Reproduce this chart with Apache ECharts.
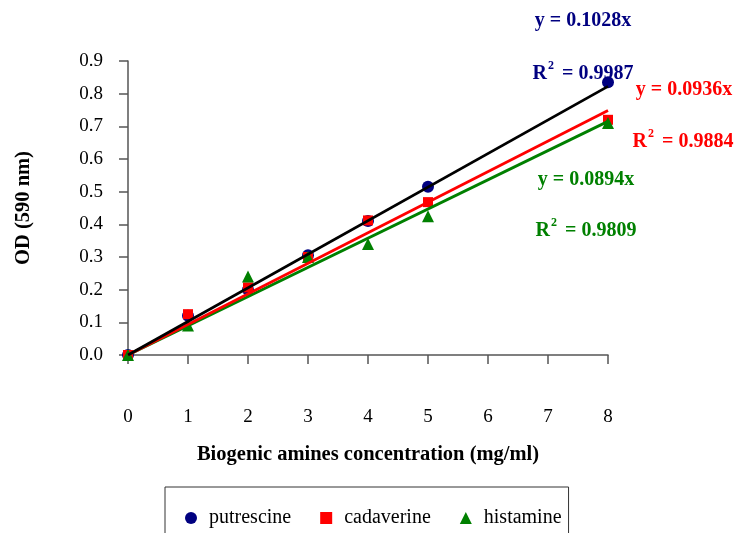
<!DOCTYPE html>
<html>
<head>
<meta charset="utf-8">
<script src="https://cdn.jsdelivr.net/npm/echarts@6/dist/echarts.min.js"></script>
<style>
  html, body { margin: 0; padding: 0; background: #fff; }
  #graph { width: 735px; height: 533px; }
</style>
</head>
<body>
<div id="graph"></div>
<script>
// 数据
var conc = [0, 1, 2, 3, 4, 5, 8];
var putrescine = [0, 0.12, 0.20, 0.305, 0.41, 0.515, 0.835];
var cadaverine = [0, 0.125, 0.207, 0.30, 0.412, 0.468, 0.72];
var histamine = [0, 0.09, 0.24, 0.30, 0.34, 0.425, 0.71];
var names = ['putrescine', 'cadaverine', 'histamine'];
var slopes = [0.1028, 0.0936, 0.0894];
var r2 = ['0.9987', '0.9884', '0.9809'];
var xTicks = [0, 1, 2, 3, 4, 5, 6, 7, 8];

var colors = ['#000080', '#ff0000', '#008000'];
var lineColors = ['#000000', '#ff0000', '#008000'];
var symbols = ['circle', 'rect', 'triangle'];
var symbolSizes = [12, 10, 12];
var serif = '"Liberation Serif", "Times New Roman", serif';

function pairs(ys) {
    return conc.map(function (x, i) { return [x, ys[i]]; });
}

var values = [putrescine, cadaverine, histamine];
var series = [];

// 散点
values.forEach(function (ys, i) {
    series.push({
        name: names[i],
        type: 'scatter',
        symbol: symbols[i],
        symbolSize: symbolSizes[i],
        itemStyle: {color: colors[i], opacity: 1},
        data: pairs(ys),
        z: 2 + i
    });
});

// 趋势线 y = kx
slopes.forEach(function (k, i) {
    var x0 = conc[0], x1 = conc[conc.length - 1];
    series.push({
        name: names[i] + ' trend',
        type: 'line',
        showSymbol: false,
        lineStyle: {color: lineColors[i], width: 2.8},
        data: [[x0, k * x0], [x1, k * x1]],
        silent: true,
        z: 7 - i
    });
});

// 方程标注
var labelPos = [
    {eq: [583, 21], r: [583, 72]},
    {eq: [684, 90], r: [683, 140]},
    {eq: [586, 180], r: [586, 229]}
];
var graphics = [];
slopes.forEach(function (k, i) {
    graphics.push({
        type: 'text',
        x: labelPos[i].eq[0], y: labelPos[i].eq[1],
        style: {
            text: 'y = ' + k + 'x',
            font: 'bold 20px ' + serif,
            fill: colors[i],
            align: 'center', verticalAlign: 'middle'
        }
    });
    graphics.push({
        type: 'text',
        x: labelPos[i].r[0], y: labelPos[i].r[1],
        style: {
            text: '{b|R}{s|2}{b| = ' + r2[i] + '}',
            rich: {
                b: {font: 'bold 20px ' + serif, fill: colors[i], verticalAlign: 'bottom', lineHeight: 24},
                s: {font: 'bold 12px ' + serif, fill: colors[i], verticalAlign: 'top', lineHeight: 24, padding: [0, 3, 12, 1]}
            },
            align: 'center', verticalAlign: 'middle'
        }
    });
});

var option = {
    animation: false,
    backgroundColor: '#fff',
    grid: {left: 128, right: 127, top: 61, bottom: 178},
    legend: {
        data: names.map(function (n, i) { return {name: n, icon: symbols[i]}; }),
        left: 165,
        top: 487,
        padding: [21, 7, 30, 20],
        itemGap: 29,
        itemWidth: 12,
        itemHeight: 12,
        borderColor: '#333',
        borderWidth: 1,
        textStyle: {fontFamily: serif, fontSize: 20, color: '#000', padding: [3, 0, 0, 7]}
    },
    xAxis: {
        type: 'value',
        min: 0, max: 8, interval: 1,
        name: 'Biogenic amines concentration (mg/ml)',
        nameLocation: 'middle',
        nameGap: 89,
        nameTextStyle: {fontFamily: serif, fontSize: 20.5, fontWeight: 'bold', color: '#000'},
        axisLine: {lineStyle: {color: '#555', width: 1.5}},
        axisTick: {show: true, length: 9, inside: false, lineStyle: {color: '#555', width: 1.5}},
        axisLabel: {
            margin: 53, fontFamily: serif, fontSize: 19, color: '#000',
            formatter: function (v) { return xTicks.indexOf(v) >= 0 ? String(v) : ''; }
        },
        splitLine: {show: false}
    },
    yAxis: {
        type: 'value',
        min: 0, max: 0.9, interval: 0.1,
        name: 'OD (590 nm)',
        nameLocation: 'middle',
        nameGap: 94,
        nameTextStyle: {fontFamily: serif, fontSize: 20.5, fontWeight: 'bold', color: '#000'},
        axisLine: {show: true, lineStyle: {color: '#555', width: 1.5}},
        axisTick: {show: true, length: 9, lineStyle: {color: '#555', width: 1.5}},
        axisLabel: {
            margin: 25, fontFamily: serif, fontSize: 19, color: '#000',
            formatter: function (v) { return v.toFixed(1); }
        },
        splitLine: {show: false}
    },
    graphic: graphics,
    series: series
};

var chart = echarts.init(document.getElementById('graph'));
chart.setOption(option);
</script>
</body>
</html>
